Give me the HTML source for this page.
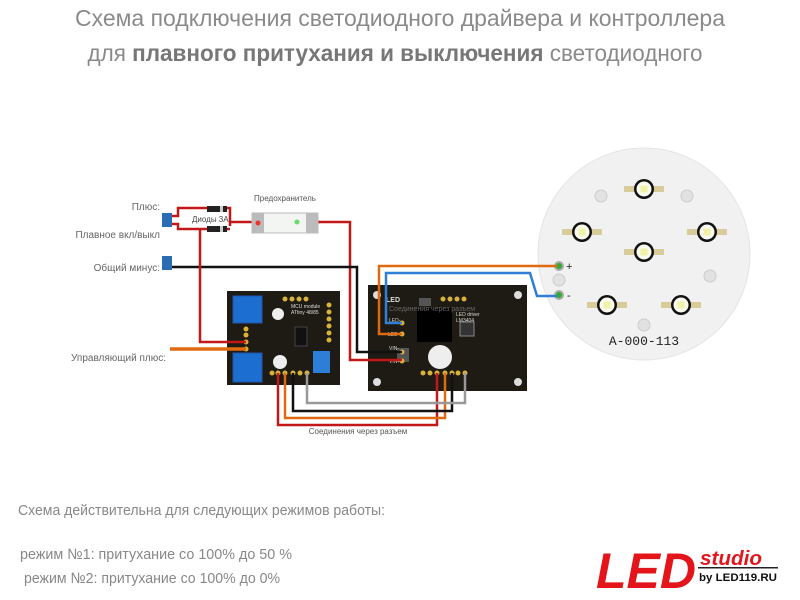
<!DOCTYPE html>
<html><head><meta charset="utf-8"><style>
body{margin:0;background:#fff;}
svg{display:block;font-family:"Liberation Sans",sans-serif;}
</style></head><body>
<svg width="800" height="600" viewBox="0 0 800 600">
<defs>
<g id="led"><rect x="-20" y="-3" width="40" height="6" fill="#d8cc9a"/><circle r="10" fill="#111"/><circle r="7.5" fill="#fafaf0"/><rect x="-3.5" y="-3.5" width="7" height="7" fill="#eef3a8"/></g>
</defs>
<text x="400" y="26" text-anchor="middle" font-size="23" fill="#8a8a8a" textLength="650" lengthAdjust="spacingAndGlyphs">Схема подключения светодиодного драйвера и контроллера</text>
<text x="395" y="61" text-anchor="middle" font-size="23" fill="#8a8a8a" textLength="615" lengthAdjust="spacingAndGlyphs">для <tspan font-weight="bold" fill="#777">плавного притухания и выключения</tspan> светодиодного</text>

<!-- LED board -->
<circle cx="644" cy="254" r="106" fill="#f1f1f1" stroke="#e4e4e4"/>
<g fill="#e2e2e2" stroke="#ccc">
<circle cx="601" cy="196" r="6"/><circle cx="687" cy="196" r="6"/><circle cx="559" cy="280" r="6"/><circle cx="710" cy="276" r="6"/><circle cx="644" cy="325" r="6"/>
</g>
<use href="#led" x="644" y="189"/><use href="#led" x="582" y="232"/><use href="#led" x="707" y="232"/><use href="#led" x="644" y="252"/><use href="#led" x="607" y="305"/><use href="#led" x="681" y="305"/>
<circle cx="559" cy="266" r="4" fill="#3a3" stroke="#aaa" stroke-width="2"/><circle cx="559" cy="295" r="4" fill="#3a3" stroke="#aaa" stroke-width="2"/>
<text x="566" y="270" font-size="11" fill="#222">+</text><text x="567" y="299" font-size="11" fill="#222">-</text>
<text x="644" y="345" text-anchor="middle" font-size="13" font-family="Liberation Mono,monospace" fill="#222">A-000-113</text>

<!-- labels left -->
<g font-size="10" fill="#666" text-anchor="end">
<text x="160" y="210">Плюс:</text><text x="160" y="238">Плавное вкл/выкл</text><text x="160" y="271">Общий минус:</text><text x="166" y="361">Управляющий плюс:</text>
</g>
<text x="285" y="201" font-size="8" fill="#555" text-anchor="middle">Предохранитель</text>
<text x="358" y="434" font-size="8" fill="#555" text-anchor="middle">Соединения через разъем</text>

<!-- terminals -->
<rect x="162" y="213" width="10" height="14" fill="#2a6db5"/><rect x="162" y="256" width="10" height="14" fill="#2a6db5"/>

<!-- MCU board -->
<rect x="227" y="291" width="113" height="94" fill="#1e1a14"/>
<rect x="233" y="296" width="29" height="27" fill="#1c6fd0" stroke="#2255aa"/>
<rect x="233" y="353" width="29" height="29" fill="#1c6fd0" stroke="#2255aa"/>
<circle cx="278" cy="314" r="6" fill="#eee"/><circle cx="280" cy="362" r="7" fill="#eee"/>
<rect x="295" y="327" width="12" height="19" fill="#111" stroke="#444"/>
<rect x="313" y="351" width="17" height="22" fill="#2c7ed6"/>
<text x="291" y="308" font-size="5" fill="#ddd">MCU module</text><text x="291" y="314" font-size="5" fill="#ddd">ATtiny 48/85</text>
<!-- Driver board -->
<rect x="368" y="285" width="159" height="106" fill="#1e1a14"/>
<circle cx="377" cy="295" r="4" fill="#ddd"/><circle cx="518" cy="295" r="4" fill="#ddd"/><circle cx="377" cy="382" r="4" fill="#ddd"/><circle cx="518" cy="382" r="4" fill="#ddd"/>
<rect x="417" y="308" width="35" height="34" fill="#000"/>
<rect x="419" y="298" width="12" height="8" fill="#555"/>
<rect x="397" y="348" width="12" height="14" fill="#555"/>
<circle cx="440" cy="357" r="12" fill="#eee"/>
<rect x="460" y="322" width="14" height="14" fill="#333" stroke="#888"/>
<text x="386" y="302" font-size="7" font-weight="bold" fill="#ddd">LED</text>
<text x="389" y="311" font-size="7" fill="#666">Соединения через разъем</text>
<text x="456" y="316" font-size="5" fill="#ddd">LED driver</text><text x="456" y="322" font-size="5" fill="#ddd">LM3404</text>
<g font-size="5" fill="#ddd"><text x="389" y="322">LED-</text><text x="388" y="336">LED+</text><text x="389" y="350">VIN-</text><text x="389" y="363">VIN+</text></g>
<g fill="#d8b23a"><circle cx="402" cy="323" r="2.5"/><circle cx="402" cy="334" r="2.5"/><circle cx="402" cy="352" r="2.5"/><circle cx="402" cy="361" r="2.5"/>
<circle cx="272" cy="373" r="2.5"/><circle cx="278" cy="373" r="2.5"/><circle cx="285" cy="373" r="2.5"/><circle cx="293" cy="373" r="2.5"/><circle cx="300" cy="373" r="2.5"/><circle cx="307" cy="373" r="2.5"/>
<circle cx="423" cy="373" r="2.5"/><circle cx="430" cy="373" r="2.5"/><circle cx="437" cy="373" r="2.5"/><circle cx="445" cy="373" r="2.5"/><circle cx="452" cy="373" r="2.5"/><circle cx="458" cy="373" r="2.5"/><circle cx="465" cy="373" r="2.5"/>
<circle cx="246" cy="329" r="2.5"/><circle cx="246" cy="335" r="2.5"/><circle cx="246" cy="342" r="2.5"/><circle cx="246" cy="349" r="2.5"/>
<circle cx="285" cy="299" r="2.5"/><circle cx="292" cy="299" r="2.5"/><circle cx="299" cy="299" r="2.5"/><circle cx="306" cy="299" r="2.5"/>
<circle cx="329" cy="305" r="2.5"/><circle cx="329" cy="312" r="2.5"/><circle cx="329" cy="319" r="2.5"/><circle cx="329" cy="326" r="2.5"/><circle cx="329" cy="333" r="2.5"/><circle cx="329" cy="340" r="2.5"/>
<circle cx="443" cy="299" r="2.5"/><circle cx="450" cy="299" r="2.5"/><circle cx="457" cy="299" r="2.5"/><circle cx="464" cy="299" r="2.5"/>
</g>

<!-- wires -->
<g fill="none" stroke-width="2.5" stroke-linejoin="miter">
<path d="M172 216 H178 V208 H230 V226" stroke="#c41818"/>
<path d="M172 224 H178 V229 H230" stroke="#c41818"/>
<path d="M230 222 H320" stroke="#c41818"/>
<path d="M318 222 H350 V360 H402" stroke="#c41818"/>
<path d="M172 267 H357 V352 H402" stroke="#111"/>
<path d="M200 229 V342 H246" stroke="#c41818"/>
<path d="M170 349 H246" stroke="#e06a10" stroke-width="3.5"/>
<path d="M402 334 H379 V266 H557" stroke="#e06a10"/>
<path d="M402 323 H386 V273 H530 L537 296 H557" stroke="#2f7fd6"/>
<path d="M278 373 V425 H437 V373" stroke="#c41818"/>
<path d="M285 373 V418 H445 V373" stroke="#e06a10"/>
<path d="M293 373 V411 H452 V373" stroke="#111"/>
<path d="M307 373 V403 H465 V373" stroke="#999"/>
</g>
<!-- diodes and fuse -->
<rect x="207" y="206" width="20" height="6" fill="#222"/><rect x="220" y="206" width="3" height="6" fill="#ccc"/>
<rect x="207" y="226" width="20" height="6" fill="#222"/><rect x="220" y="226" width="3" height="6" fill="#ccc"/>
<text x="192" y="222" font-size="8" fill="#444">Диоды 3А</text>
<rect x="252" y="213" width="66" height="20" fill="#f2f5f2" stroke="#bbb"/>
<rect x="252" y="213" width="12" height="20" fill="#bbb"/><rect x="306" y="213" width="12" height="20" fill="#bbb"/>
<circle cx="258" cy="223" r="2.5" fill="#e33"/><circle cx="297" cy="222" r="2.5" fill="#6d6"/>

<!-- bottom text -->
<g font-size="15" fill="#888">
<text x="18" y="515" textLength="367" lengthAdjust="spacingAndGlyphs">Схема действительна для следующих режимов работы:</text>
<text x="20" y="559" textLength="272" lengthAdjust="spacingAndGlyphs">режим №1:  притухание со 100% до 50 %</text>
<text x="24" y="583" textLength="256" lengthAdjust="spacingAndGlyphs">режим №2: притухание со 100% до 0%</text>
</g>
<!-- logo -->
<text x="596" y="588" font-size="50" font-weight="bold" font-style="italic" fill="#e4141b" textLength="100" lengthAdjust="spacingAndGlyphs">LED</text>
<text x="700" y="565" font-size="20" font-weight="bold" font-style="italic" fill="#e4141b" textLength="62" lengthAdjust="spacingAndGlyphs">studio</text>
<rect x="698" y="567" width="80" height="1.5" fill="#222"/>
<text x="699" y="581" font-size="11" font-weight="bold" fill="#111" textLength="78" lengthAdjust="spacingAndGlyphs">by LED119.RU</text>
</svg>
</body></html>
